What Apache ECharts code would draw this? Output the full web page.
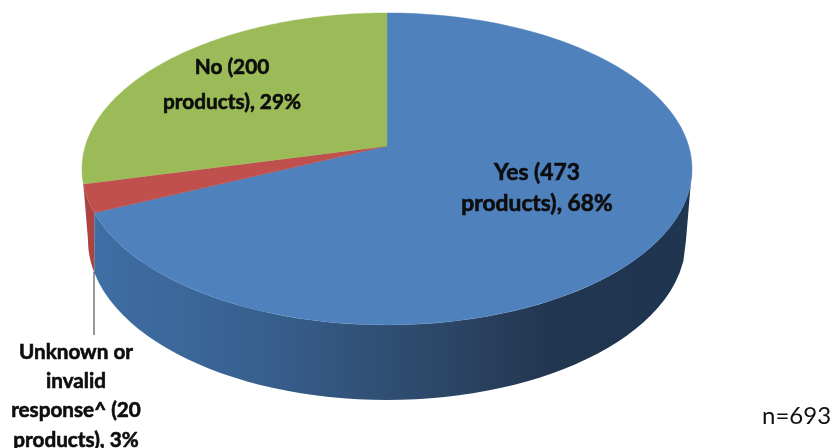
<!DOCTYPE html>
<html>
<head>
<meta charset="utf-8">
<style>html,body{margin:0;padding:0;background:#fff}#c{width:835px;height:448px}</style>
<script src="https://cdn.jsdelivr.net/npm/echarts@6/dist/echarts.min.js"></script>
</head>
<body>
<div id="c"></div>
<script>
// Data (clockwise from 12 o'clock)
const categories = ['Yes', 'Unknown or invalid response^', 'No'];
const productCounts = [473, 20, 200];
const labelTexts = [
  'Yes (473\nproducts), 68%',
  'Unknown or\ninvalid\nresponse^ (20\nproducts), 3%',
  'No (200\nproducts), 29%'
];
const sampleNote = 'n=693';

// Styling and layout
const topColors = ['#4f81bd', '#c0504d', '#9bbb59'];
const sideStops = [
  [[0, '#3f6fa6'], [0.3, '#375f8d'], [0.55, '#2e4a6c'], [0.78, '#22364f'], [1, '#1f3550']],
  [[0, '#ab4441'], [1, '#ab4441']],
  [[0, '#7c9647'], [1, '#7c9647']]
];
const labelAnchors = [[537, 188, 31, 22.8], [76, 396, 29.3, 20.7], [232, 85, 35, 20.8]];
const apex = [387, 146];
const persp = -0.147, scaleY = 152.6, scaleX = 301.7;
const topEll = {cx: 387, cy: 169, rx: 305, ry: 156};
const botEll = {cx: 387, cy: 240, rx: 299, ry: 160};
const total = productCounts.reduce((a, b) => a + b, 0);

function topPoint(theta) {
  const x = Math.sin(theta), y = -Math.cos(theta);
  const w = 1 + persp * y;
  return [apex[0] + scaleX * x / w, apex[1] + scaleY * y / w];
}
function ellipseParam(theta) {
  const p = topPoint(theta);
  let t = Math.atan2((p[0] - topEll.cx) / topEll.rx, -(p[1] - topEll.cy) / topEll.ry);
  if (t < 0) t += Math.PI * 2;
  return t;
}
function sidePoints(t0, t1) {
  const n = 60, pts = [], bot = [];
  for (let i = 0; i <= n; i++) {
    const t = t0 + (t1 - t0) * i / n;
    const st = Math.sin(t), ct = Math.cos(t);
    pts.push([topEll.cx + topEll.rx * st, topEll.cy - topEll.ry * ct]);
    const s = Math.max(-1, Math.min(1, st * topEll.rx / botEll.rx));
    const c = (ct >= 0 ? 1 : -1) * Math.sqrt(1 - s * s);
    bot.push([botEll.cx + botEll.rx * s, botEll.cy - botEll.ry * c]);
  }
  return pts.concat(bot.reverse());
}

const chart = echarts.init(document.getElementById('c'), null, {renderer: 'canvas'});
chart.setOption({
  animation: false,
  backgroundColor: '#fff',
  series: [{
    type: 'custom',
    coordinateSystem: 'none',
    silent: true,
    data: productCounts.map((v, i) => ({name: categories[i], value: v})),
    renderItem: function (params, api) {
      const i = params.dataIndex;
      let before = 0;
      for (let k = 0; k < i; k++) before += productCounts[k];
      const a0 = before / total * 2 * Math.PI;
      const a1 = (before + api.value(0)) / total * 2 * Math.PI;
      const children = [];

      // Side wall: only the front half (parameter between 90 and 270 degrees) shows
      const t0 = Math.max(ellipseParam(a0 + 1e-6), Math.PI / 2);
      let t1 = ellipseParam(a1 - 1e-6);
      t1 = Math.min(t1, Math.PI * 1.5);
      if (t1 > t0) {
        children.push({
          type: 'polygon',
          z2: 1,
          shape: {points: sidePoints(t0, t1)},
          style: {
            fill: new echarts.graphic.LinearGradient(88, 0, 686, 0,
              sideStops[i].map(s => ({offset: s[0], color: s[1]})), true)
          }
        });
      }

      // Top face
      const pts = [apex.slice()];
      const n = 160;
      for (let k = 0; k <= n; k++) pts.push(topPoint(a0 + (a1 - a0) * k / n));
      children.push({
        type: 'polygon',
        z2: 2,
        shape: {points: pts},
        style: {fill: topColors[i], stroke: topColors[i], lineWidth: 0.4}
      });

      // Label
      const la = labelAnchors[i];
      children.push({
        type: 'text',
        z2: 5,
        x: la[0], y: la[1],
        style: {
          text: labelTexts[i],
          fontFamily: 'Lato',
          fontWeight: 'bold',
          fontSize: la[3],
          lineHeight: la[2],
          fill: '#0d0d0d',
          stroke: '#0d0d0d',
          lineWidth: 0.6,
          align: 'center',
          verticalAlign: 'middle'
        }
      });
      return {type: 'group', children: children};
    }
  }],
  graphic: [
    {type: 'line', z: 10, shape: {x1: 94, y1: 272, x2: 94, y2: 335}, style: {stroke: '#333', lineWidth: 1}},
    {type: 'text', z: 10, x: 762, y: 416, style: {text: sampleNote, fontFamily: 'Lato', fontSize: 24, fill: '#111', verticalAlign: 'middle'}}
  ]
});
</script>
</body>
</html>
